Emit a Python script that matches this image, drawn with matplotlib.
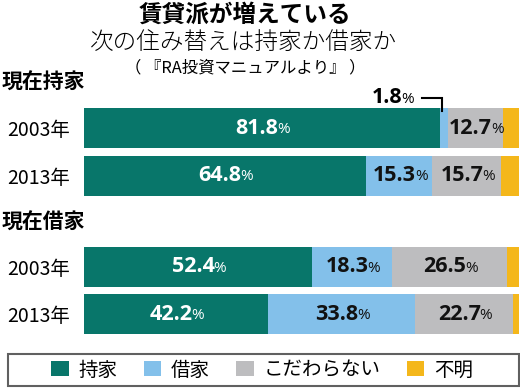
import matplotlib
matplotlib.use("Agg")
import matplotlib.pyplot as plt
from matplotlib.patches import Rectangle, Patch

plt.rcParams['font.family'] = ['Noto Sans CJK JP', 'DejaVu Sans']

# data
groups = ['現在持家', '現在借家']
years = ['2003年', '2013年', '2003年', '2013年']
categories = ['持家', '借家', 'こだわらない', '不明']
own = [81.8, 64.8, 52.4, 42.2]
rent = [1.8, 15.3, 18.3, 33.8]
either = [12.7, 15.7, 26.5, 22.7]
unknown = [3.7, 4.2, 2.8, 1.3]

colors = ['#08766a', '#83c0ea', '#bdbdbf', '#f4b71b']
text_colors = ['white', '#111111', '#111111', None]

fig = plt.figure(figsize=(5.2, 3.88), dpi=100)
ax = fig.add_axes([84/520, 1-340/388, 435/520, 240/388])

NUM = dict(fontsize=15.5, family='Open Sans', fontweight='bold')
PCT = dict(fontsize=11, family='Open Sans')

y_pos = [0, 1, 2.92, 3.92]
series = [own, rent, either, unknown]
left = [0.0] * 4
for k, vals in enumerate(series):
    ax.barh(y_pos, vals, left=left, height=0.84, color=colors[k], linewidth=0)
    if text_colors[k] is not None:
        for i, v in enumerate(vals):
            if v < 5:
                continue
            cx = left[i] + v / 2
            ax.annotate(f'{v:.1f}', (cx, y_pos[i]), xytext=(12, 0), textcoords='offset points',
                        ha='right', va='center', color=text_colors[k], **NUM)
            ax.annotate('%', (cx, y_pos[i]), xytext=(11.3, -1), textcoords='offset points',
                        ha='left', va='center', color=text_colors[k], **PCT)
    left = [l + v for l, v in zip(left, vals)]

# 1.8% callout
lx = own[0] + rent[0] * 0.3
ax.plot([lx, lx, lx - 4.6], [y_pos[0] - 0.36, -0.64, -0.64], color='black', lw=1.5,
        clip_on=False, solid_joinstyle='miter')
ax.annotate(f'{rent[0]:.1f}', (lx - 4.6, -0.64), xytext=(-14.5, 0), textcoords='offset points',
            ha='right', va='center', annotation_clip=False, **NUM)
ax.annotate('%', (lx - 4.6, -0.64), xytext=(-15.2, -1), textcoords='offset points',
            ha='left', va='center', annotation_clip=False, **PCT)

ax.set_xlim(0, 100)
ax.set_ylim(4.46, -0.59)
ax.set_yticks(y_pos, years, fontsize=14)
ax.tick_params(axis='y', length=0, pad=10)
ax.set_xticks([])
for s in ax.spines.values():
    s.set_visible(False)

# titles
fig.text(245/520, 1-15/388, '賃貸派が増えている', ha='center', va='center',
         fontsize=17, fontweight='bold')
fig.text(243/520, 1-42/388, '次の住み替えは持家か借家か', ha='center', va='center',
         fontsize=17, fontweight='light')
fig.text(245/520, 1-68/388, '（ 『RA投資マニュアルより』 ）', ha='center', va='center',
         fontsize=11.8)
fig.text(2/520, 1-82/388, groups[0], ha='left', va='center', fontsize=15, fontweight='bold')
fig.text(2/520, 1-222/388, groups[1], ha='left', va='center', fontsize=15, fontweight='bold')

# legend
fig.patches.append(Rectangle((8/520, 1-386/388), 511/520, 32/388, transform=fig.transFigure,
                             fill=False, edgecolor='#606060', lw=1.5))
handles = [Patch(facecolor=c, edgecolor='none') for c in colors]
fig.legend(handles, categories, loc='center', bbox_to_anchor=(262/520, 1-370/388),
           ncol=4, frameon=False, fontsize=14, handlelength=0.9, handleheight=0.8,
           handletextpad=0.5, columnspacing=1.35, borderpad=0)

fig.savefig('out.png', dpi=100)
